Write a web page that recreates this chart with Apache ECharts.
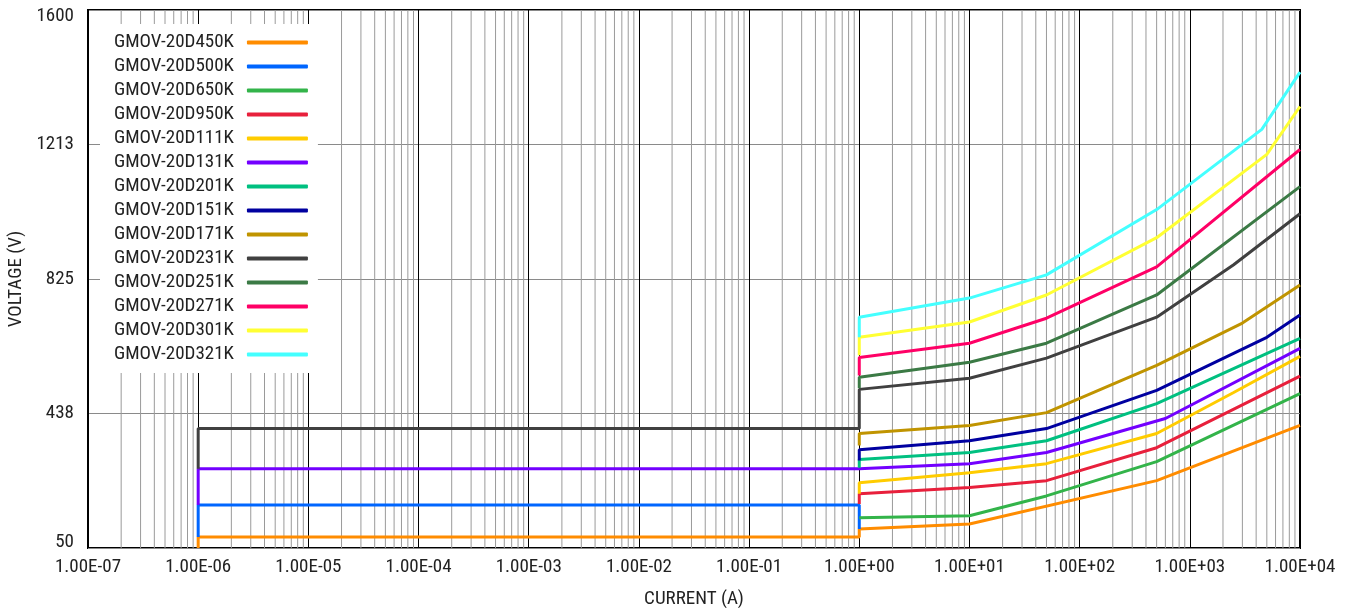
<!DOCTYPE html>
<html>
<head>
<meta charset="utf-8">
<script src="https://cdn.jsdelivr.net/npm/echarts@6/dist/echarts.min.js"></script>
<style>
html,body{margin:0;padding:0;background:#fff;}
#chart{width:1350px;height:608px;}
</style>
</head>
<body>
<div id="chart"></div>
<script>
// ---- data: [current (A), voltage (V)] ----
const seriesNames = ['GMOV-20D450K','GMOV-20D500K','GMOV-20D650K','GMOV-20D950K','GMOV-20D111K','GMOV-20D131K','GMOV-20D201K','GMOV-20D151K','GMOV-20D171K','GMOV-20D231K','GMOV-20D251K','GMOV-20D271K','GMOV-20D301K','GMOV-20D321K'];
const s450K = [[1e-6,50],[1e-6,82],[1,82],[1,105],[10,119],[500,244],[1e4,403]];
const s500K = [[1e-6,82],[1e-6,174],[1,174],[1,105]];
const s650K = [[1,137],[10,143],[50,200],[500,299],[1e4,495]];
const s950K = [[1,177],[1,206],[10,224],[50,244],[500,339],[1e4,545]];
const s111K = [[1,206],[1,238],[10,267],[50,293],[500,380],[2500,498],[1e4,602]];
const s131K = [[1e-6,174],[1e-6,278],[1,278],[10,293],[50,325],[600,423],[1e4,625]];
const s201K = [[1,281],[1,305],[10,325],[50,359],[500,466],[1e4,654]];
const s151K = [[1,302],[1,333],[10,359],[50,394],[500,504],[5000,657],[1e4,721]];
const s171K = [[1,345],[1,380],[10,403],[50,440],[500,576],[3000,698],[1e4,808]];
const s231K = [[1e-6,278],[1e-6,394],[1,394],[1,507],[10,539],[50,597],[500,715],[2500,866],[1e4,1013]];
const s251K = [[1,510],[1,542],[10,585],[50,640],[500,779],[1e4,1091]];
const s271K = [[1,547],[1,599],[10,640],[50,712],[500,860],[1e4,1198]];
const s301K = [[1,605],[1,657],[10,701],[50,779],[500,944],[5000,1184],[1e4,1322]];
const s321K = [[1,657],[1,715],[10,770],[50,837],[500,1025],[4500,1256],[1e4,1421]];
const seriesData = [s450K,s500K,s650K,s950K,s111K,s131K,s201K,s151K,s171K,s231K,s251K,s271K,s301K,s321K];

const colors = ['#ff8c00','#0066ff','#33b44a','#e8203c','#ffcc00','#7300ff','#00c080','#0000a0','#c09400','#404040','#3b7a45','#ff0066','#ffff33','#44ffff'];

// minor log grid values (2..9 per decade)
const minorGrid = [];
for (let d = -7; d < 4; d++) for (let k = 2; k <= 9; k++) minorGrid.push(k * Math.pow(10, d));

const FONT = "'Liberation Sans Narrow','Arial Narrow','Roboto Condensed','DejaVu Sans Condensed',sans-serif";

function fmtE(v){
  const e = Math.round(Math.log10(v));
  const m = v / Math.pow(10, e);
  const s = e < 0 ? '-' : '+';
  const a = Math.abs(e);
  return m.toFixed(2) + 'E' + s + (a < 10 ? '0' + a : '' + a);
}

const chart = echarts.init(document.getElementById('chart'));
const series = [{
  name: 'minorGrid', type: 'custom', silent: true, z: 1,
  data: minorGrid.map(v => [v, 50]),
  encode: {x: 0, y: 1},
  renderItem: function(params, api){
    const p1 = api.coord([api.value(0), 50]);
    const p2 = api.coord([api.value(0), 1600]);
    return {type: 'line', shape: {x1: p1[0], y1: p1[1], x2: p2[0], y2: p2[1]},
            style: {stroke: '#9a9a9a', lineWidth: 1}};
  }
}];
seriesNames.forEach((n, i) => {
  series.push({
    name: n, type: 'line', data: seriesData[i], showSymbol: false, symbol: 'none',
    color: colors[i], lineStyle: {width: 3, color: colors[i]}, z: 3
  });
});

chart.setOption({
  animation: false,
  grid: {left: 88, right: 50, top: 10, bottom: 60, show: true, borderColor: '#000', borderWidth: 2, outerBoundsMode: 'none'},
  legend: {
    data: seriesNames, orient: 'vertical', left: 100, top: 24, align: 'right',
    backgroundColor: '#fff', padding: [9, 10, 9, 14], itemGap: 5,
    icon: 'roundRect', itemWidth: 61, itemHeight: 4,
    textStyle: {fontFamily: FONT, fontSize: 19, color: '#222', padding: [0, 8, 0, 0]},
    selectedMode: false
  },
  xAxis: {
    type: 'log', logBase: 10, min: 1e-7, max: 1e4, interval: 1,
    name: 'CURRENT (A)', nameLocation: 'middle', nameGap: 42,
    nameTextStyle: {fontFamily: FONT, fontSize: 19, color: '#222'},
    axisLine: {show: false}, axisTick: {show: false},
    axisLabel: {fontFamily: FONT, fontSize: 19, color: '#222', margin: 10, formatter: fmtE, showMinLabel: true, showMaxLabel: true},
    splitLine: {show: true, lineStyle: {color: '#000', width: 1}},
    minorTick: {show: false}, minorSplitLine: {show: false}
  },
  yAxis: {
    type: 'value', min: 50, max: 1600, interval: 387.5,
    name: 'VOLTAGE (V)', nameLocation: 'middle', nameGap: 60,
    nameTextStyle: {fontFamily: FONT, fontSize: 19, color: '#222'},
    axisLine: {show: false}, axisTick: {show: false},
    axisLabel: {
      fontFamily: FONT, fontSize: 19, color: '#222', margin: 14,
      formatter: function(v){
        const t = String(Math.round(v));
        if (Math.abs(v - 1600) < 1) return '{t|' + t + '}';
        if (Math.abs(v - 50) < 1) return '{b|' + t + '}';
        return t;
      },
      rich: {
        t: {fontFamily: FONT, fontSize: 19, color: '#222', padding: [12, 0, 0, 0]},
        b: {fontFamily: FONT, fontSize: 19, color: '#222', padding: [0, 0, 12, 0]}
      }
    },
    splitLine: {show: true, lineStyle: {color: '#8a8a8a', width: 1}}
  },
  series: series
});
</script>
</body>
</html>
